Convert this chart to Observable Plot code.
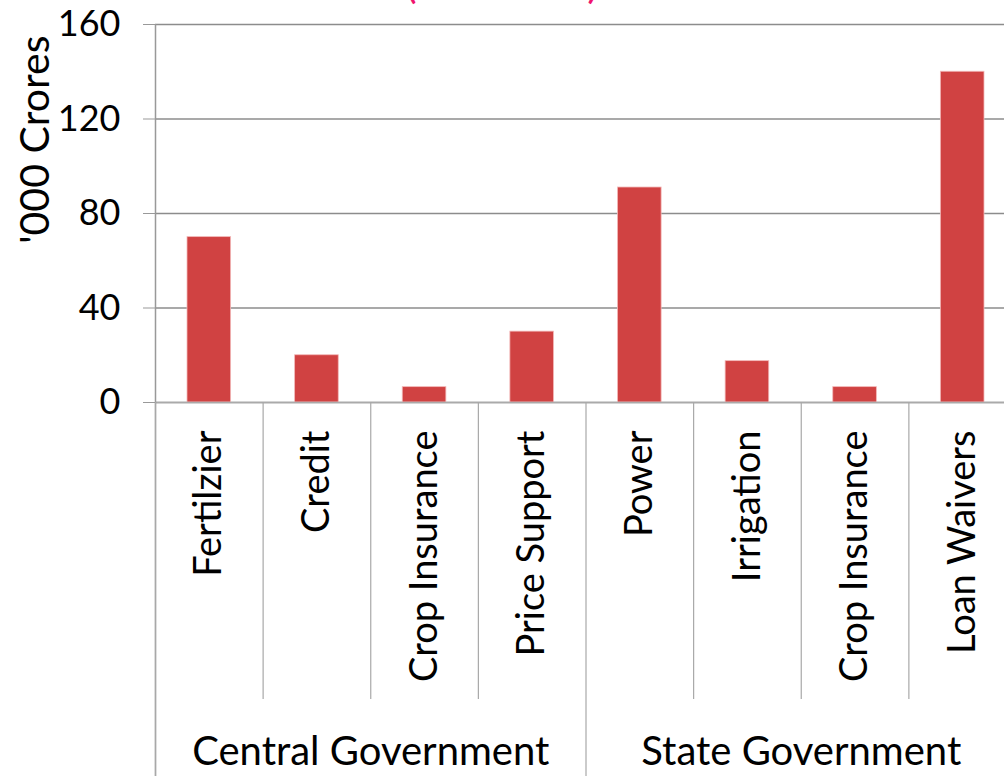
<!DOCTYPE html>
<html>
<head>
<meta charset="utf-8">
<script src="https://cdn.jsdelivr.net/npm/d3@7"></script>
<script src="https://cdn.jsdelivr.net/npm/@observablehq/plot@0.6"></script>
<style>
  html, body { margin: 0; padding: 0; background: #fff; overflow: hidden; width: 1004px; height: 776px; }
  #wrap { position: relative; width: 1004px; height: 776px; overflow: hidden; }
  #title { position: absolute; left: 0; top: -39px; width: 1004px; text-align: center;
           font-family: Lato, sans-serif; font-size: 42px; line-height: 42px; color: #f0146e; white-space: nowrap; }
  #chart { position: absolute; left: 0; top: 0; width: 1016px; }
  #chart svg { max-width: none !important; }
</style>
</head>
<body>
<div id="wrap">
  <div id="title">(2017–18)</div>
  <div id="chart"></div>
</div>
<script>
const categories = ["Fertilzier", "Credit", "Crop Insurance", "Price Support", "Power", "Irrigation", "Crop Insurance", "Loan Waivers"];
const groups = ["Central Government", "Central Government", "Central Government", "Central Government",
                "State Government", "State Government", "State Government", "State Government"];
const values = [70, 20, 6.5, 30, 91, 17.5, 6.5, 140];
const yTicks = [0, 40, 80, 120, 160];
const groupNames = ["Central Government", "State Government"];

const data = categories.map((c, i) => ({i, category: c, group: groups[i], value: values[i]}));
const groupData = groupNames.map(g => {
  const idx = data.filter(d => d.group === g).map(d => d.i);
  return {group: g, start: d3.min(idx), end: d3.max(idx) + 1};
});
const boundaries = d3.range(categories.length + 1);
const groupBounds = Array.from(new Set(groupData.flatMap(g => [g.start, g.end])));
const catBounds = boundaries.filter(b => !groupBounds.includes(b));

const FONT = "Lato, sans-serif";

const chart = Plot.plot({
  width: 1016,
  height: 776,
  marginLeft: 155,
  marginRight: 0,
  marginTop: 24,
  marginBottom: 374,
  style: {fontFamily: FONT, fontSize: "36px", color: "#000", background: "transparent", overflow: "visible", maxWidth: "none"},
  x: {type: "linear", domain: [0, categories.length], axis: null},
  y: {domain: [0, 160], ticks: yTicks, axis: null},
  marks: [
    Plot.gridY(yTicks, {stroke: "#8c8c8c", strokeOpacity: 1, strokeWidth: 1.5}),
    Plot.rectY(data, {x1: "i", x2: d => d.i + 1, y: "value", fill: "#d04242", stroke: "#f3b9b9", strokeWidth: 0.8, insetLeft: 32, insetRight: 32}),
    Plot.axisY(yTicks, {tickSize: 12, tickPadding: 23, stroke: "#999", fontSize: 36, label: null, tickFormat: d => String(d)}),
    Plot.ruleY([0], {stroke: "#aaa", strokeWidth: 1.5}),
    Plot.ruleX([0], {stroke: "#999", strokeWidth: 1.5, insetBottom: -374}),
    Plot.ruleX(catBounds, {stroke: "#a8a8a8", strokeWidth: 1.2, insetTop: 378, insetBottom: -297}),
    Plot.ruleX(groupBounds, {stroke: "#a8a8a8", strokeWidth: 1.2, insetTop: 378, insetBottom: -374}),
    Plot.text(data, {x: d => d.i + 0.5, frameAnchor: "bottom", text: "category", rotate: -90, textAnchor: "end",
                     lineAnchor: "middle", dy: 28, fontSize: 38, fill: "#000"}),
    Plot.text(groupData, {x: d => (d.start + d.end) / 2, frameAnchor: "bottom", text: "group", textAnchor: "middle",
                          lineAnchor: "middle", dy: 350, fontSize: 40, fill: "#000"}),
    Plot.text(["'000 Crores"], {frameAnchor: "top-left", rotate: -90, textAnchor: "end", lineAnchor: "middle",
                                dx: -120, dy: 11, fontSize: 41, fill: "#000"})
  ]
});
document.getElementById("chart").appendChild(chart);
</script>
</body>
</html>
